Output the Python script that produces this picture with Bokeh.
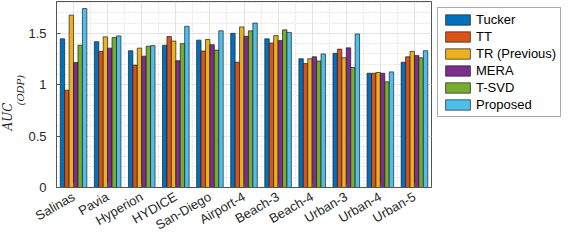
import math
from bokeh.plotting import figure
from bokeh.models import (Range1d, FixedTicker, SingleIntervalTicker, Legend, LegendItem,
                          Title, ColumnDataSource)
from bokeh.embed import file_html
from bokeh.resources import INLINE

categories = ["Salinas", "Pavia", "Hyperion", "HYDICE", "San-Diego", "Airport-4",
              "Beach-3", "Beach-4", "Urban-3", "Urban-4", "Urban-5"]
series_names = ["Tucker", "TT", "TR (Previous)", "MERA", "T-SVD", "Proposed"]
tucker   = [1.447, 1.419, 1.331, 1.384, 1.434, 1.500, 1.447, 1.253, 1.306, 1.112, 1.219]
tt       = [0.947, 1.325, 1.191, 1.469, 1.328, 1.219, 1.406, 1.206, 1.347, 1.112, 1.272]
tr_prev  = [1.678, 1.466, 1.356, 1.425, 1.440, 1.563, 1.478, 1.253, 1.262, 1.119, 1.325]
mera     = [1.216, 1.356, 1.278, 1.234, 1.390, 1.472, 1.431, 1.272, 1.359, 1.112, 1.284]
tsvd     = [1.385, 1.459, 1.375, 1.400, 1.337, 1.525, 1.534, 1.231, 1.169, 1.028, 1.262]
proposed = [1.741, 1.475, 1.381, 1.569, 1.525, 1.600, 1.509, 1.300, 1.494, 1.125, 1.331]
series_values = [tucker, tt, tr_prev, mera, tsvd, proposed]
colors = ["#0072BD", "#D95319", "#EDB120", "#7E2F8E", "#77AC30", "#4DBEEE"]
y_ticks = [0, 0.5, 1, 1.5]

FONT = "Liberation Sans"
AXC = "#262626"

n = len(categories)
p = figure(frame_width=375, frame_height=186, output_backend="svg", toolbar_location=None,
           x_range=Range1d(0, n), y_range=Range1d(0, 1.81),
           min_border_left=0, min_border_right=1, min_border_top=1, min_border_bottom=37)
p.background_fill_color = "white"
p.border_fill_color = "white"
p.outline_line_color = "#555555"
p.outline_line_width = 1

centers = [i + 0.5 for i in range(n)]
bounds = list(range(n + 1))

xa = p.xaxis[0]
xa.ticker = FixedTicker(ticks=centers, minor_ticks=bounds)
xa.major_label_overrides = {c: cat for c, cat in zip(centers, categories)}
xa.major_label_orientation = math.pi / 6
xa.major_label_text_font = FONT
xa.major_label_text_font_size = "13px"
xa.major_label_text_color = AXC
xa.major_tick_in = 4
xa.major_tick_out = 0
xa.minor_tick_line_color = None
xa.axis_line_color = "#555555"
xa.major_tick_line_color = "#555555"
xa.major_label_standoff = 4

ya = p.yaxis[0]
ya.ticker = SingleIntervalTicker(interval=0.5, num_minor_ticks=5)
ya.major_label_overrides = {0: "0", 0.5: "0.5", 1: "1", 1.5: "1.5"}
ya.major_label_text_font = FONT
ya.major_label_text_font_size = "13px"
ya.major_label_text_color = AXC
ya.major_tick_in = 4
ya.major_tick_out = 0
ya.minor_tick_line_color = None
ya.axis_line_color = "#555555"
ya.major_tick_line_color = "#555555"
ya.major_label_standoff = 6

p.ygrid.grid_line_color = "#e3e3e3"
p.ygrid.minor_grid_line_color = "#d0d0d0"
p.ygrid.minor_grid_line_dash = "1 2"
p.xgrid.grid_line_color = "#e3e3e3"
p.xgrid.minor_grid_line_color = "#d0d0d0"
p.xgrid.minor_grid_line_dash = "1 2"

bar_w = 0.13
offsets = [(k - (len(series_names) - 1) / 2) * bar_w for k in range(len(series_names))]
items = []
for name, vals, col, off in zip(series_names, series_values, colors, offsets):
    src = ColumnDataSource(dict(x=[c + off for c in centers], top=vals))
    r = p.vbar(x="x", top="top", width=bar_w, bottom=0, source=src,
               fill_color=col, line_color="#1a1a1a", line_width=0.8, line_alpha=0.85)
    items.append(LegendItem(label=name, renderers=[r]))

legend = Legend(items=items, location="top_left", orientation="vertical")
legend.label_text_font = FONT
legend.label_text_font_size = "13px"
legend.label_text_color = "black"
legend.glyph_width = 31
legend.glyph_height = 13
legend.label_standoff = 3
legend.spacing = 2
legend.padding = 4
legend.margin = 6
legend.label_height = 14
legend.border_line_color = "#555555"
legend.border_line_width = 1
legend.background_fill_color = "white"
p.add_layout(legend, "right")

# y label: AUC with subscript (ODP), as two vertical titles
sub = Title(text="(ODP)", align="left", offset=82, standoff=0,
            text_font="DejaVu Serif", text_font_style="italic",
            text_font_size="10px", text_color=AXC)
main = Title(text="AUC", align="left", offset=57, standoff=-4,
             text_font="DejaVu Serif", text_font_style="italic",
             text_font_size="12px", text_color=AXC)
p.add_layout(sub, "left")
p.add_layout(main, "left")

open("out.html", "w").write(file_html(p, INLINE))
